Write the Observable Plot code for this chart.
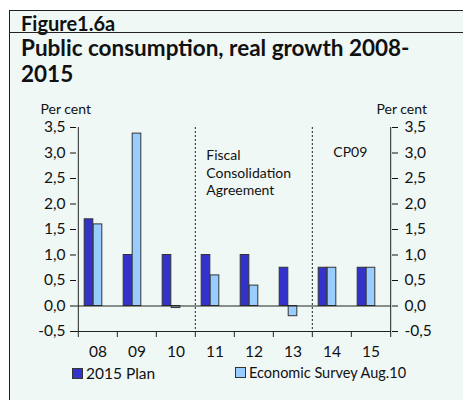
<!DOCTYPE html>
<html>
<head>
<meta charset="utf-8">
<script src="https://cdn.jsdelivr.net/npm/d3@7"></script>
<script src="https://cdn.jsdelivr.net/npm/@observablehq/plot@0.6"></script>
<style>
  html, body { margin: 0; padding: 0; background: #ffffff; }
  body { width: 463px; height: 400px; position: relative; overflow: hidden; font-family: Lato, "Noto Sans", sans-serif; color: #111; }
  #box { position: absolute; left: 9px; top: 10px; width: 470px; height: 400px; border: 1px solid #222; background: #f0f8f6; }
  #fig { position: absolute; left: 11px; top: 0px; font-weight: bold; font-size: 20px; }
  #rule { position: absolute; left: 0; top: 21px; width: 100%; border-top: 1px solid #222; }
  #title { position: absolute; left: 11px; top: 24px; font-weight: bold; font-size: 22.5px; line-height: 26px; }
  #chart { position: absolute; left: 0; top: 90px; }
  .leg { position: absolute; top: 364px; font-size: 14.5px; display: flex; align-items: center; }
  .sw { width: 9px; height: 9px; border: 1px solid #333; margin-right: 3px; }
</style>
</head>
<body>
<div id="box">
  <div id="fig">Figure1.6a</div>
  <div id="rule"></div>
  <div id="title">Public consumption, real growth 2008-<br>2015</div>
</div>
<div id="chart"></div>
<div class="leg" style="left:72px; font-size:15.5px"><div class="sw" style="background:#3333cc"></div>2015 Plan</div>
<div class="leg" style="left:235px"><div class="sw" style="background:#99ccff"></div>Economic Survey Aug.10</div>
<script>
const years = ["08", "09", "10", "11", "12", "13", "14", "15"];
const plan2015 = [1.7, 1.0, 1.0, 1.0, 1.0, 0.75, 0.75, 0.75];
const surveyAug10 = [1.6, 3.38, -0.04, 0.6, 0.4, -0.2, 0.75, 0.75];
const yTicks = [-0.5, 0, 0.5, 1.0, 1.5, 2.0, 2.5, 3.0, 3.5];
const planColor = "#3333cc";
const surveyColor = "#99ccff";

const W = 463, H = 310, mL = 76, mR = 72, mT = 37, mB = 69;
const bw = (W - mL - mR) / years.length;
const fmt = d => d.toFixed(1).replace(".", ",");

const planData = years.map((y, i) => ({year: y, value: plan2015[i]}));
const surveyData = years.map((y, i) => ({year: y, value: surveyAug10[i]}));

const chart = Plot.plot({
  width: W, height: H,
  marginLeft: mL, marginRight: mR, marginTop: mT, marginBottom: mB,
  style: {fontFamily: "Lato, 'Noto Sans', sans-serif", background: "transparent", color: "#111"},
  x: {type: "band", domain: years, padding: 0, label: null},
  y: {domain: [-0.5, 3.5], label: null},
  marks: [
    Plot.barY(planData, {x: "year", y: "value", fill: planColor, stroke: "#333", strokeWidth: 1,
      insetLeft: bw / 2 - 13.5, insetRight: bw / 2 + 4.5}),
    Plot.barY(surveyData, {x: "year", y: "value", fill: surveyColor, stroke: "#333", strokeWidth: 1,
      insetLeft: bw / 2 - 4.5, insetRight: bw / 2 - 4.5}),
    Plot.ruleY([0], {stroke: "#222"}),
    Plot.ruleY([-0.5], {stroke: "#222"}),
    Plot.ruleX(["08"], {dx: -bw / 2, y1: 3.5, y2: -0.5, stroke: "#222"}),
    Plot.ruleX(["15"], {dx: bw / 2, y1: 3.5, y2: -0.5, stroke: "#222"}),
    Plot.ruleX(["11", "14"], {dx: -bw / 2, y1: 3.5, y2: -0.5, stroke: "#222", strokeDasharray: "2,2"}),
    Plot.ruleX(years, {dx: -bw / 2, y1: -0.5, y2: -0.5, insetBottom: -6, stroke: "#222"}),
    Plot.ruleX(["15"], {dx: bw / 2, y1: -0.5, y2: -0.5, insetBottom: -6, stroke: "#222"}),
    Plot.axisX({tickSize: 0, tickPadding: 14, fontSize: 15.5, label: null}),
    Plot.axisY({anchor: "left", ticks: yTicks, tickFormat: fmt, tickSize: 6, tickPadding: 5, fontSize: 15.5, label: null}),
    Plot.axisY({anchor: "right", ticks: yTicks, tickFormat: fmt, tickSize: 6, tickPadding: 7, fontSize: 15.5, label: null}),
    Plot.text(["Per cent"], {frameAnchor: "top-left", dx: -36, dy: -23, textAnchor: "start", fontSize: 14}),
    Plot.text(["Per cent"], {frameAnchor: "top-right", dx: -15, dy: -23, textAnchor: "start", fontSize: 14}),
    Plot.text(["Fiscal\nConsolidation\nAgreement"], {x: () => "11", y: () => 3.1, dx: -bw / 2 + 11, textAnchor: "start", lineAnchor: "top", lineHeight: 1.25, fontSize: 14}),
    Plot.text(["CP09"], {x: () => "14", y: () => 3.0, dx: -bw / 2 + 21, textAnchor: "start", fontSize: 14})
  ]
});
document.getElementById("chart").appendChild(chart);
</script>
</body>
</html>
